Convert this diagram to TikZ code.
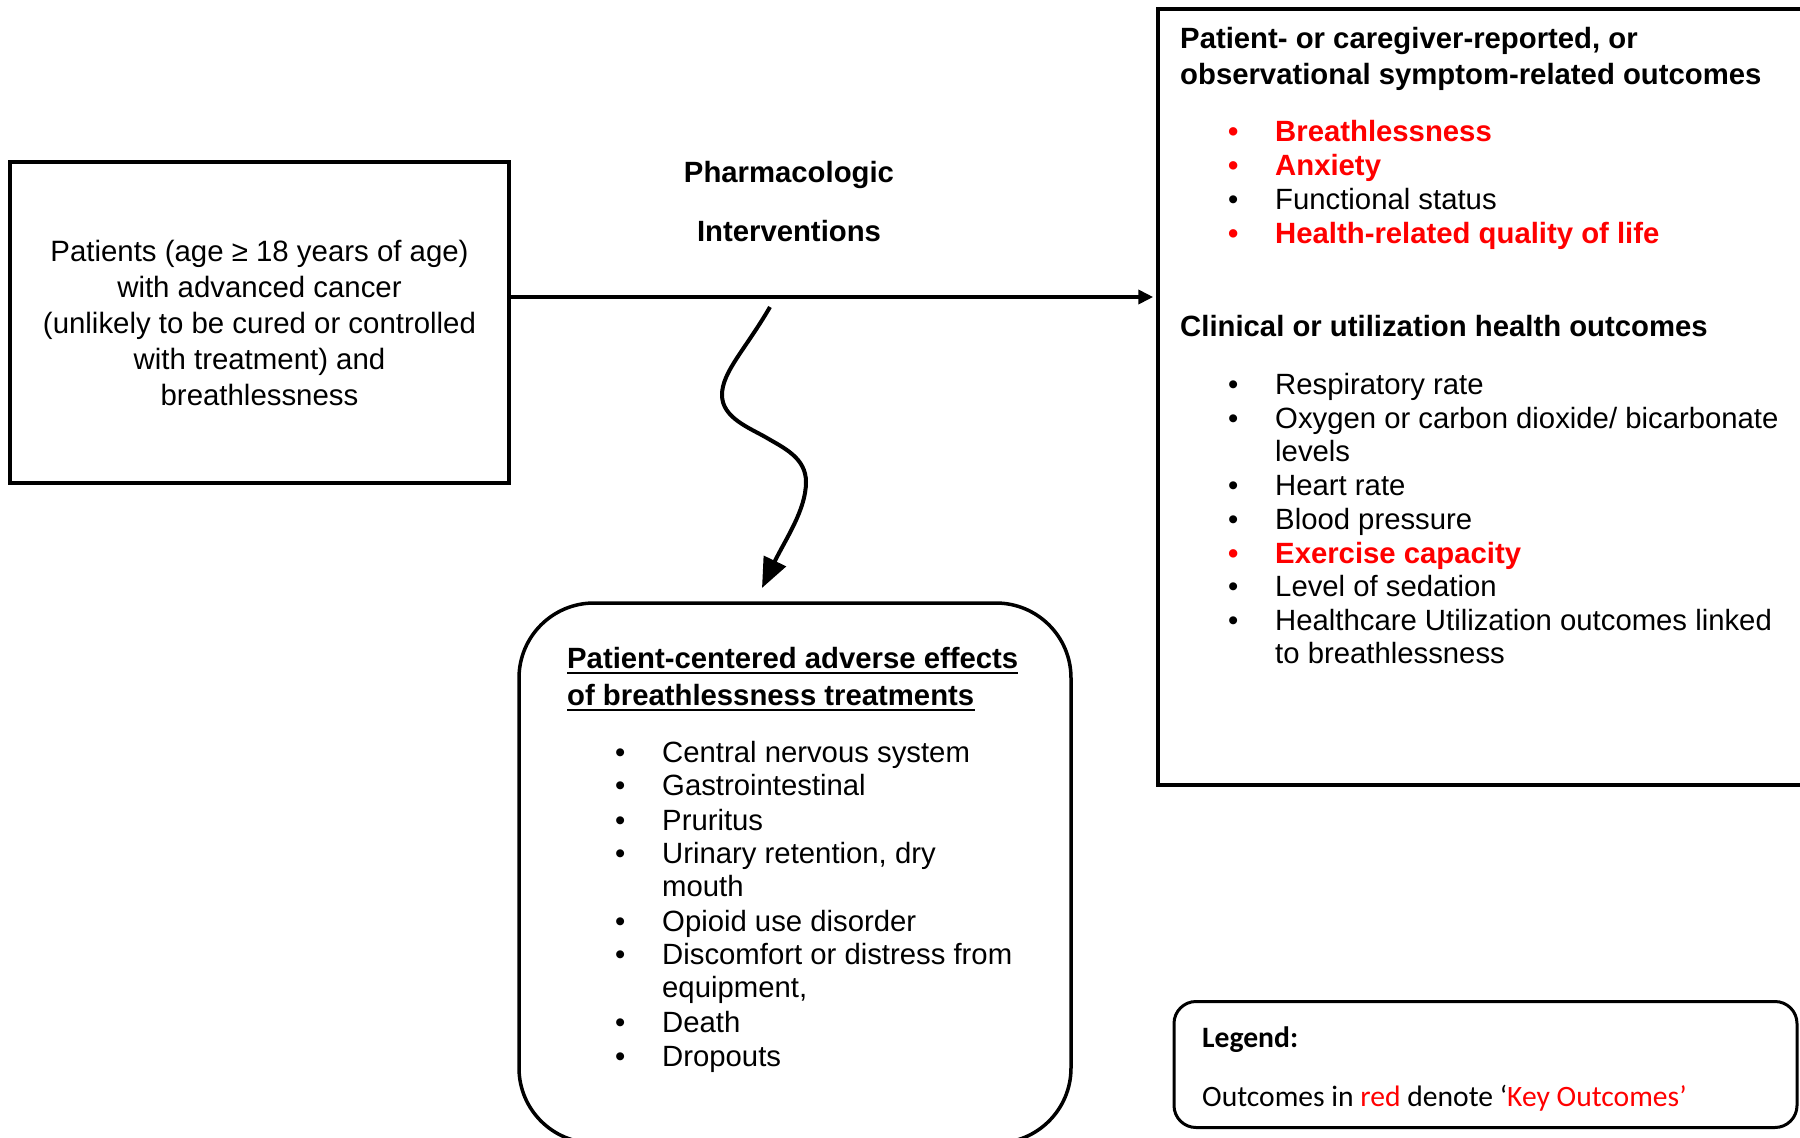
\documentclass[tikz,border=0pt]{standalone}
\usepackage{fontspec}
\setmainfont{Liberation Sans}
\newfontfamily\calfont{Carlito}
\usetikzlibrary{arrows.meta}
\definecolor{keyred}{RGB}{255,0,0}
\newcommand{\bulitem}[5]{%
  \node[#4] (#1b) at (#2,#3) {•};
  \node[#4] (#1) at (#2+47,#3) {#5};}
\begin{document}
\begin{tikzpicture}[x=1pt,y=-1pt,
  txt/.style={anchor=base west, inner sep=0pt, font=\fontsize{29.3}{34}\selectfont},
  btxt/.style={anchor=base west, inner sep=0pt, font=\fontsize{29.3}{34}\selectfont\bfseries},
  rtxt/.style={btxt, text=keyred},
  boxline/.style={line width=3.5pt},
  conn/.style={line width=4pt, -{Triangle[length=15pt,width=14pt]}},
  wavy/.style={line width=4pt, -{Triangle[length=30pt,width=24pt]}},
  ul/.style={line width=2.5pt},
]
\useasboundingbox (0,0) rectangle (1800,1138);
\fill[white] (0,0) rectangle (1800,1138);

% population box
\node[draw, boxline, minimum width=499pt, minimum height=321pt, inner sep=0pt,
      align=center, font=\fontsize{29.4}{36}\selectfont] (pop) at (259.5,322.5)
  {Patients (age ≥ 18 years of age)\\with advanced cancer\\(unlikely to be cured or controlled\\with treatment) and\\breathlessness};

% outcomes box (open to the right)
\node[draw, boxline, minimum width=680pt, minimum height=776pt, inner sep=0pt] (outc) at (1498,397) {};

% adverse effects box
\node[draw, boxline, rounded corners=75pt, minimum width=552pt, minimum height=540pt, inner sep=0pt] (adv) at (795,873) {};

% legend box
\node[draw, line width=3pt, rounded corners=22pt, minimum width=623pt, minimum height=126pt, inner sep=0pt] (leg) at (1485.5,1064.5) {};

% interventions label
\node[btxt, anchor=base] (ph1) at (789,182) {Pharmacologic};
\node[btxt, anchor=base] (ph2) at (789,241) {Interventions};

% main arrow
\coordinate (hy) at (0,297);
\draw[conn, shorten >=3pt] (pop.east |- hy) -- (outc.west |- hy);

% wavy arrow
\coordinate (w0) at (770,307);
\coordinate (w1) at (762,588);
\draw[wavy] (w0) .. controls (745,350) and (722,372) .. (722,395)
  .. controls (722,418) and (750,428) .. (767,438)
  .. controls (784,448) and (806,458) .. (806,482)
  .. controls (806,510) and (785,540) .. (w1);

% outcomes text
\node[btxt] (h1) at (1180,48) {Patient- or caregiver-reported, or};
\node[btxt] (h2) at (1180,84) {observational symptom-related outcomes};
\bulitem{o1}{1228}{141}{rtxt}{Breathlessness}
\bulitem{o2}{1228}{175}{rtxt}{Anxiety}
\bulitem{o3}{1228}{209}{txt}{Functional status}
\bulitem{o4}{1228}{243}{rtxt}{Health-related quality of life}

\node[btxt] (h3) at (1180,336) {Clinical or utilization health outcomes};
\bulitem{c1}{1228}{394}{txt}{Respiratory rate}
\bulitem{c2}{1228}{428}{txt}{Oxygen or carbon dioxide/ bicarbonate}
\node[txt] (c2x) at (1275,461) {levels};
\bulitem{c3}{1228}{495}{txt}{Heart rate}
\bulitem{c4}{1228}{529}{txt}{Blood pressure}
\bulitem{c5}{1228}{563}{rtxt}{Exercise capacity}
\bulitem{c6}{1228}{596}{txt}{Level of sedation}
\bulitem{c7}{1228}{630}{txt}{Healthcare Utilization outcomes linked}
\node[txt] (c7x) at (1275,663) {to breathlessness};

% adverse effects text
\node[btxt] (t1) at (567,668) {Patient-centered adverse effects};
\node[btxt] (t2) at (567,705) {of breathlessness treatments};
\draw[ul] ([yshift=-5pt]t1.base west) -- ([yshift=-5pt]t1.base east);
\draw[ul] ([yshift=-5pt]t2.base west) -- ([yshift=-5pt]t2.base east);
\bulitem{a1}{615}{762}{txt}{Central nervous system}
\bulitem{a2}{615}{795}{txt}{Gastrointestinal}
\bulitem{a3}{615}{830}{txt}{Pruritus}
\bulitem{a4}{615}{863}{txt}{Urinary retention, dry}
\node[txt] (a4x) at (662,896) {mouth};
\bulitem{a5}{615}{931}{txt}{Opioid use disorder}
\bulitem{a6}{615}{964}{txt}{Discomfort or distress from}
\node[txt] (a6x) at (662,997) {equipment,};
\bulitem{a7}{615}{1032}{txt}{Death}
\bulitem{a8}{615}{1066}{txt}{Dropouts}

% legend text
\node[txt, font=\calfont\fontsize{29.6}{34}\selectfont\bfseries] (lg1) at (1202,1047) {Legend:};
\node[txt, font=\calfont\fontsize{29.6}{34}\selectfont] (lg2) at (1202,1106)
  {Outcomes in \textcolor{keyred}{red} denote ‘\textcolor{keyred}{Key Outcomes’}};
\end{tikzpicture}
\end{document}
